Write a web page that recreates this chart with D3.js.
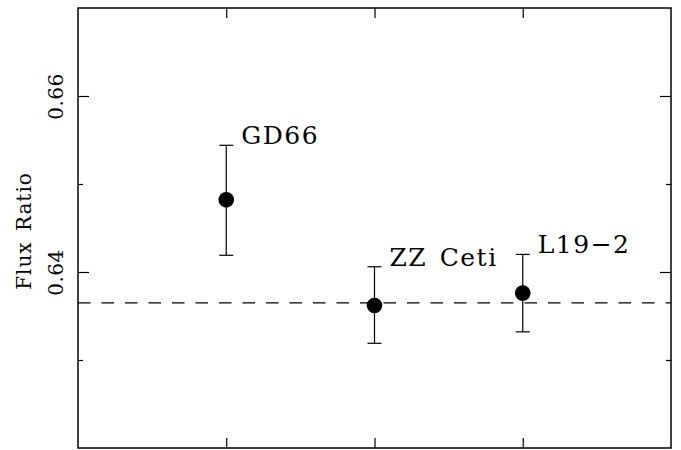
<!DOCTYPE html>
<html>
<head>
<meta charset="utf-8">
<script src="https://cdn.jsdelivr.net/npm/d3@7"></script>
<style>
  body { margin: 0; background: #fff; }
  svg { display: block; }
  text { font-family: "DejaVu Serif", serif; fill: #000; }
</style>
</head>
<body>
<svg id="chart" width="681" height="450"></svg>
<script>
const stars = ["GD66", "ZZ Ceti", "L19\u22122"];
const xPos = [1, 2, 3];
const ratio = [0.6482, 0.6362, 0.6376];
const errHi = [0.0062, 0.0044, 0.0044];
const errLo = [0.0063, 0.0043, 0.0044];
const meanRatio = 0.6365;   // dashed reference line
const majorTicks = [0.64, 0.66];
const minorTicks = [0.63, 0.65];
const xTicks = [1, 2, 3];

const mLeft = 78, mRight = 671, mTop = 8, mBottom = 448;

const svg = d3.select("#chart");

const x = d3.scaleLinear().domain([0, 4]).range([mLeft, mRight]);
const y = d3.scaleLinear().domain([0.62, 0.67]).range([mBottom, mTop]);

// frame
svg.append("rect")
    .attr("x", mLeft).attr("y", mTop)
    .attr("width", mRight - mLeft).attr("height", mBottom - mTop)
    .attr("fill", "none").attr("stroke", "#000").attr("stroke-width", 1.5);

// y axis left: major ticks with labels
const yMajL = svg.append("g").attr("transform", `translate(${mLeft},0)`)
    .call(d3.axisLeft(y).tickValues(majorTicks).tickSize(-11).tickPadding(14).tickFormat(d3.format(".2f")));
const yMinL = svg.append("g").attr("transform", `translate(${mLeft},0)`)
    .call(d3.axisLeft(y).tickValues(minorTicks).tickSize(-5).tickFormat(""));
// right side mirror
const yMajR = svg.append("g").attr("transform", `translate(${mRight},0)`)
    .call(d3.axisRight(y).tickValues(majorTicks).tickSize(-11).tickFormat(""));
const yMinR = svg.append("g").attr("transform", `translate(${mRight},0)`)
    .call(d3.axisRight(y).tickValues(minorTicks).tickSize(-5).tickFormat(""));
// x ticks bottom and top
const xB = svg.append("g").attr("transform", `translate(0,${mBottom})`)
    .call(d3.axisBottom(x).tickValues(xTicks).tickSize(-10).tickFormat(""));
const xT = svg.append("g").attr("transform", `translate(0,${mTop})`)
    .call(d3.axisTop(x).tickValues(xTicks).tickSize(-10).tickFormat(""));

[yMajL, yMinL, yMajR, yMinR, xB, xT].forEach(g => {
  g.select(".domain").remove();
  g.selectAll(".tick line").attr("stroke", "#000").attr("stroke-width", 1.2);
});

// rotate y tick labels
yMajL.selectAll(".tick text")
    .attr("font-size", 20)
    .attr("font-family", "DejaVu Serif")
    .attr("letter-spacing", 0.5)
    .attr("x", null).attr("dy", null)
    .attr("text-anchor", "middle")
    .attr("transform", "translate(-15,0) rotate(-90)");

// axis title
svg.append("text")
    .attr("transform", `translate(31,${231}) rotate(-90)`)
    .attr("text-anchor", "middle")
    .attr("font-size", 20)
    .attr("letter-spacing", 1)
    .attr("word-spacing", 3)
    .text("Flux Ratio");

// dashed mean line
svg.append("line")
    .attr("x1", mLeft).attr("x2", mRight)
    .attr("y1", y(meanRatio)).attr("y2", y(meanRatio))
    .attr("stroke", "#000").attr("stroke-width", 1.2)
    .attr("stroke-dasharray", "12.5,11");

// error bars
const pts = stars.map((s, i) => ({name: s, x: xPos[i], v: ratio[i], hi: errHi[i], lo: errLo[i]}));
const eb = svg.append("g").selectAll("g").data(pts).join("g");
eb.append("line")
    .attr("x1", d => x(d.x)).attr("x2", d => x(d.x))
    .attr("y1", d => y(d.v + d.hi)).attr("y2", d => y(d.v - d.lo))
    .attr("stroke", "#000").attr("stroke-width", 1.2);
eb.append("line")
    .attr("x1", d => x(d.x) - 7).attr("x2", d => x(d.x) + 7)
    .attr("y1", d => y(d.v + d.hi)).attr("y2", d => y(d.v + d.hi))
    .attr("stroke", "#000").attr("stroke-width", 1.2);
eb.append("line")
    .attr("x1", d => x(d.x) - 7).attr("x2", d => x(d.x) + 7)
    .attr("y1", d => y(d.v - d.lo)).attr("y2", d => y(d.v - d.lo))
    .attr("stroke", "#000").attr("stroke-width", 1.2);
eb.append("circle")
    .attr("cx", d => x(d.x)).attr("cy", d => y(d.v))
    .attr("r", 7.8).attr("fill", "#000");
eb.append("text")
    .attr("x", d => x(d.x) + 15)
    .attr("y", d => y(d.v + d.hi) - 1)
    .attr("font-size", 25)
    .attr("letter-spacing", 1.5)
    .attr("word-spacing", 3)
    .text(d => d.name);
</script>
</body>
</html>
